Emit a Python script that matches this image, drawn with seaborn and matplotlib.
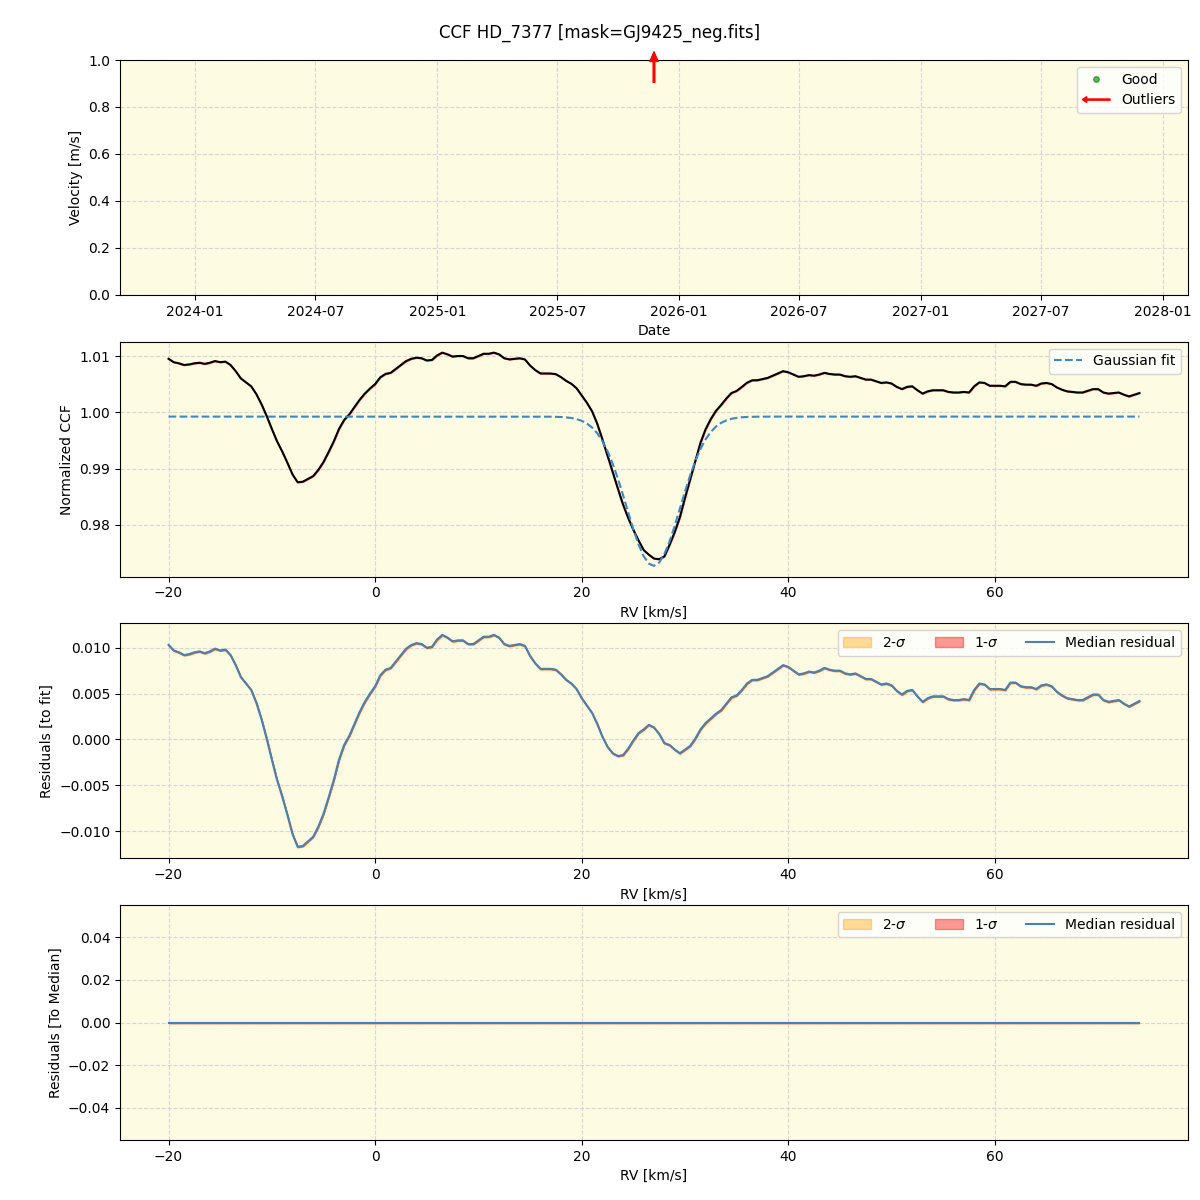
import numpy as np
import pandas as pd
import seaborn as sns
import matplotlib.pyplot as plt
import matplotlib.dates as mdates
import matplotlib.patches as mpatches
from matplotlib.lines import Line2D
from matplotlib.legend_handler import HandlerPatch

# radial velocity grid [km/s]
rv = np.arange(-20, 74.5, 0.5)

# residuals of the CCF to the gaussian fit
residual = [
    0.0103, 0.0097, 0.0095, 0.0092, 0.0093, 0.0095, 0.0096, 0.0094, 0.0096, 0.0099,
    0.0097, 0.0098, 0.0092, 0.0081, 0.0068, 0.0061, 0.0054, 0.0040, 0.0022, 0.0001,
    -0.0022, -0.0044, -0.0062, -0.0082, -0.0103, -0.0117, -0.0116, -0.0111, -0.0106, -0.0095,
    -0.0081, -0.0063, -0.0044, -0.0022, -0.0006, 0.0004, 0.0017, 0.0030, 0.0041, 0.0050,
    0.0058, 0.0070, 0.0076, 0.0078, 0.0085, 0.0092, 0.0099, 0.0103, 0.0105, 0.0104,
    0.0100, 0.0101, 0.0109, 0.0114, 0.0111, 0.0107, 0.0108, 0.0108, 0.0104, 0.0104,
    0.0108, 0.0112, 0.0112, 0.0114, 0.0111, 0.0104, 0.0102, 0.0103, 0.0104, 0.0102,
    0.0091, 0.0083, 0.0077, 0.0077, 0.0077, 0.0076, 0.0071, 0.0065, 0.0061, 0.0055,
    0.0045, 0.0037, 0.0029, 0.0017, 0.0003, -0.0008, -0.0015, -0.0018, -0.0017, -0.0010,
    -0.0001, 0.0007, 0.0011, 0.0016, 0.0013, 0.0006, -0.0004, -0.0006, -0.0011, -0.0015,
    -0.0011, -0.0007, 0.0001, 0.0011, 0.0018, 0.0023, 0.0028, 0.0032, 0.0039, 0.0046,
    0.0048, 0.0054, 0.0061, 0.0065, 0.0065, 0.0067, 0.0069, 0.0073, 0.0077, 0.0081,
    0.0079, 0.0075, 0.0071, 0.0072, 0.0074, 0.0073, 0.0075, 0.0078, 0.0076, 0.0075,
    0.0075, 0.0072, 0.0071, 0.0072, 0.0069, 0.0066, 0.0066, 0.0063, 0.0060, 0.0061,
    0.0059, 0.0053, 0.0049, 0.0053, 0.0054, 0.0047, 0.0041, 0.0045, 0.0047, 0.0047,
    0.0047, 0.0044, 0.0043, 0.0043, 0.0044, 0.0043, 0.0054, 0.0061, 0.0060, 0.0055,
    0.0055, 0.0055, 0.0054, 0.0062, 0.0062, 0.0058, 0.0057, 0.0057, 0.0055, 0.0059,
    0.0060, 0.0058, 0.0052, 0.0048, 0.0045, 0.0044, 0.0043, 0.0043, 0.0046, 0.0049,
    0.0049, 0.0043, 0.0041, 0.0042, 0.0043, 0.0039, 0.0036, 0.0039, 0.0042,
]
assert len(residual) == len(rv)
residual = np.array(residual)

# gaussian fit parameters
fit_offset = 0.99925
fit_amp = -0.0266
fit_center = 26.95
fit_sigma = 2.6

ccf_err = 0.00004   # tiny scatter band

# outlier epoch (no good points)
outlier_dates = pd.to_datetime(["2025-11-24"])

gauss = fit_offset + fit_amp * np.exp(-0.5 * ((rv - fit_center) / fit_sigma) ** 2)
ccf = gauss + residual
to_median = np.zeros_like(rv)

bg = "#fdfbe2"
blue = "#3f86c2"

fig, axes = plt.subplots(4, 1, figsize=(12, 12), dpi=100)
plt.subplots_adjust(left=0.1, right=0.99, top=0.95, bottom=0.05, hspace=0.2)
fig.suptitle("CCF HD_7377 [mask=GJ9425_neg.fits]", fontsize=12, y=0.98)

for ax in axes:
    ax.set_facecolor(bg)
    ax.grid(True, linestyle="--", color="lightgray", linewidth=0.8, alpha=0.9)
    ax.set_axisbelow(True)

# --- panel 1: time series
ax = axes[0]
sns.scatterplot(x=pd.to_datetime([]), y=[], ax=ax)
for d in outlier_dates:
    ax.annotate("", xy=(mdates.date2num(d), 1.035), xytext=(mdates.date2num(d), 0.905),
                xycoords="data", annotation_clip=False,
                arrowprops=dict(facecolor="red", edgecolor="red", width=1.2,
                                headwidth=6, headlength=7))
ax.set_ylim(0, 1)
ax.set_xlim(pd.Timestamp("2023-09-10"), pd.Timestamp("2028-02-08"))
ax.xaxis.set_major_locator(mdates.MonthLocator(bymonth=[1, 7]))
ax.xaxis.set_major_formatter(mdates.DateFormatter("%Y-%m"))
ax.set_xlabel("Date")
ax.set_ylabel("Velocity [m/s]")


def make_arrow(legend, orig_handle, xdescent, ydescent, width, height, fontsize):
    return mpatches.FancyArrow(width, 0.5 * height, -width, 0, length_includes_head=True,
                               head_width=0.6 * height, head_length=0.45 * height,
                               width=0.12 * height, color="red")


good_h = Line2D([], [], marker="o", color="green", alpha=0.6, linestyle="", markersize=4)
out_h = mpatches.FancyArrow(0, 0, 1, 0, color="red")
ax.legend([good_h, out_h], ["Good", "Outliers"], loc="upper right",
          handler_map={mpatches.FancyArrow: HandlerPatch(patch_func=make_arrow)})

# --- panel 2: CCF and gaussian fit
ax = axes[1]
ax.fill_between(rv, ccf - ccf_err, ccf + ccf_err, color="red", alpha=0.4)
sns.lineplot(x=rv, y=ccf, color="black", linewidth=1.5, ax=ax, estimator=None)
sns.lineplot(x=rv, y=gauss, color=blue, linestyle="--", linewidth=1.5, ax=ax,
             estimator=None, label="Gaussian fit")
ax.set_xlabel("RV [km/s]")
ax.set_ylabel("Normalized CCF")
ax.legend(loc="upper right")

# --- panel 3: residuals to fit
ax = axes[2]
ax.fill_between(rv, residual - 2 * ccf_err, residual + 2 * ccf_err, color="orange", alpha=0.4, label="2-$\\sigma$")
ax.fill_between(rv, residual - ccf_err, residual + ccf_err, color="red", alpha=0.4, label="1-$\\sigma$")
sns.lineplot(x=rv, y=residual, color="#4a7fb0", linewidth=1.5, ax=ax, estimator=None,
             label="Median residual")
ax.set_xlabel("RV [km/s]")
ax.set_ylabel("Residuals [to fit]")
ax.legend(loc="upper right", ncol=3)

# --- panel 4: residuals to median (all zero, bands collapse)
ax = axes[3]
ax.fill_between(rv, to_median, to_median, color="orange", alpha=0.4, label="2-$\\sigma$")
ax.fill_between(rv, to_median, to_median, color="red", alpha=0.4, label="1-$\\sigma$")
sns.lineplot(x=rv, y=to_median, color="#4a7fb0", linewidth=1.5, ax=ax, estimator=None,
             label="Median residual")
ax.set_xlabel("RV [km/s]")
ax.set_ylabel("Residuals [To Median]")
ax.legend(loc="upper right", ncol=3)

plt.savefig("out.png", dpi=100)
